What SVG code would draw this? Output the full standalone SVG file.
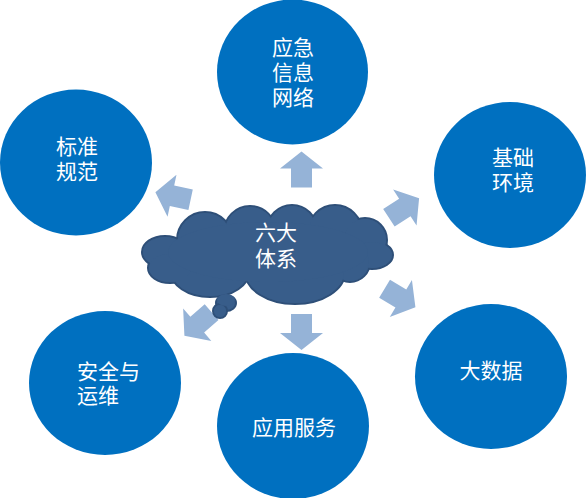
<svg xmlns="http://www.w3.org/2000/svg" width="587" height="498" viewBox="0 0 587 498">
<style>
.c{fill:#0070C0}
.t{fill:#FFFFFF;font-family:"Liberation Sans","Noto Sans CJK SC",sans-serif;font-size:21px;text-anchor:middle}
.a{fill:#95B3D7}
.cl{fill:#385D8A}
.clo{fill:#385D8A;stroke:#2E4F78;stroke-width:2}
</style>
<defs>
<polygon id="arr" points="-18,-10.5 1,-10.5 1,-21.5 18,0 1,21.5 1,10.5 -18,10.5"/>
</defs>
<g id="node-yingji">
<ellipse class="c" cx="292.5" cy="72" rx="75.5" ry="72.5"/>
<text class="t"><tspan x="293" y="55">应急</tspan><tspan x="293" y="80">信息</tspan><tspan x="293" y="105">网络</tspan></text>
</g>
<g id="node-biaozhun">
<ellipse class="c" cx="76" cy="162.5" rx="76" ry="73"/>
<text class="t"><tspan x="77" y="154">标准</tspan><tspan x="77" y="179">规范</tspan></text>
</g>
<g id="node-jichu">
<ellipse class="c" cx="510" cy="175" rx="76" ry="73"/>
<text class="t"><tspan x="513" y="165">基础</tspan><tspan x="513" y="190">环境</tspan></text>
</g>
<g id="node-dashuju">
<ellipse class="c" cx="491" cy="376.5" rx="76" ry="72.5"/>
<text class="t" x="491" y="378">大数据</text>
</g>
<g id="node-yingyong">
<ellipse class="c" cx="293" cy="426" rx="76" ry="73"/>
<text class="t" x="294" y="435">应用服务</text>
</g>
<g id="node-anquan">
<ellipse class="c" cx="105" cy="383" rx="76" ry="72"/>
<text class="t" style="text-anchor:start"><tspan x="77" y="379">安全与</tspan><tspan x="77" y="403">运维</tspan></text>
</g>
<g id="connectors">
<use href="#arr" class="a" transform="translate(301.5,169.5) rotate(-90)"/>
<use href="#arr" class="a" transform="translate(301.5,332) rotate(90)"/>
<use href="#arr" class="a" transform="translate(173,196) rotate(-168)"/>
<use href="#arr" class="a" transform="translate(404,208) rotate(-33)"/>
<use href="#arr" class="a" transform="translate(400,298) rotate(31)"/>
<use href="#arr" class="a" transform="translate(198,324) rotate(139)"/>
</g>
<g id="node-center">
<g class="clo">
<ellipse cx="165" cy="252" rx="23" ry="16"/>
<circle cx="205" cy="240" r="28"/>
<circle cx="250" cy="232" r="26"/>
<circle cx="292" cy="230" r="25"/>
<circle cx="335" cy="232" r="27"/>
<circle cx="365" cy="240" r="22"/>
<ellipse cx="372" cy="255" rx="21" ry="14"/>
<circle cx="350" cy="262" r="20"/>
<ellipse cx="295" cy="272" rx="50" ry="32"/>
<ellipse cx="210" cy="270" rx="40" ry="27"/>
<ellipse cx="170" cy="268" rx="22" ry="15"/>
<ellipse cx="226" cy="303" rx="10" ry="8"/>
<circle cx="220" cy="311" r="7"/>
</g>
<g class="cl">
<ellipse cx="165" cy="252" rx="22" ry="15"/>
<circle cx="205" cy="240" r="27"/>
<circle cx="250" cy="232" r="25"/>
<circle cx="292" cy="230" r="24"/>
<circle cx="335" cy="232" r="26"/>
<circle cx="365" cy="240" r="21"/>
<ellipse cx="372" cy="255" rx="20" ry="13"/>
<circle cx="350" cy="262" r="19"/>
<ellipse cx="295" cy="272" rx="49" ry="31"/>
<ellipse cx="210" cy="270" rx="39" ry="26"/>
<ellipse cx="170" cy="268" rx="21" ry="14"/>
<ellipse cx="268" cy="252" rx="100" ry="30"/>
<ellipse cx="226" cy="300" rx="9" ry="6"/>
<circle cx="220" cy="311" r="6"/>
</g>
<text class="t"><tspan x="276" y="240">六大</tspan><tspan x="276" y="266">体系</tspan></text>
</g>
</svg>
